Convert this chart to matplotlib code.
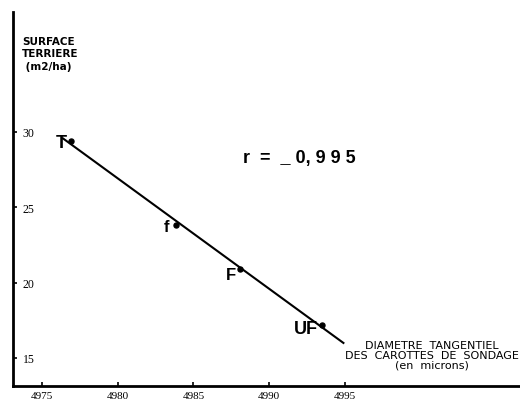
import numpy as np
import matplotlib
matplotlib.use("Agg")
import matplotlib.pyplot as plt

# points (diametre tangentiel, surface terriere)
labels = ["T", "f", "F", "UF"]
diametre = [4976.9, 4983.85, 4988.1, 4993.5]
surface = [29.4, 23.8, 20.9, 17.2]
label_sizes = [13, 12, 12, 13]
label_dx = [-3, -4.5, -3, -3]
label_dy = [-1, -1, -4, -3]

xticks = [4975, 4980, 4985, 4990, 4995]
yticks = [15, 20, 25, 30]
line_range = [4976.4, 4994.9]

fig = plt.figure(figsize=(5.2, 4.06), dpi=100)
ax = fig.add_axes([0.025, 0.047, 0.975, 0.921])
ax.set_xlim(4973.1, 5006.55)
ax.set_ylim(13.14, 37.96)

# droite de regression
a, b = np.polyfit(diametre, surface, 1)
xl = np.array(line_range)
ax.plot(xl, a * xl + b, color="black", lw=1.5)

ax.plot(diametre, surface, "o", color="black", ms=3.6)
for lab, x, y, s, dx, dy in zip(labels, diametre, surface, label_sizes, label_dx, label_dy):
    ax.annotate(lab, (x, y), xytext=(dx, dy), textcoords="offset points",
                ha="right", va="center", fontsize=s, fontweight="bold",
                family="Liberation Sans")

ax.text(4988.3, 28.3, "r  =  _ 0, 9 9 5", fontsize=13, fontweight="bold",
        family="Liberation Sans", va="center", ha="left")

for side in ["top", "right"]:
    ax.spines[side].set_visible(False)
ax.spines["left"].set_linewidth(2)
ax.spines["bottom"].set_linewidth(2)

ax.set_xticks(xticks)
ax.set_yticks(yticks)
ax.tick_params(direction="in", length=3, width=1.2, labelsize=8.5)
ax.tick_params(axis="y", pad=-7)
ax.tick_params(axis="x", pad=3.5, labelsize=8)
for t in ax.get_xticklabels() + ax.get_yticklabels():
    t.set_family("Liberation Serif")
for t in ax.get_yticklabels():
    t.set_horizontalalignment("left")

ax.text(0.018, 0.936, "SURFACE\nTERRIERE\n (m2/ha)", transform=ax.transAxes,
        fontsize=7.5, fontweight="bold",
        family=["Liberation Sans Narrow", "DejaVu Sans"],
        va="top", ha="left", linespacing=1.3)

ax.text(0.826, 0.122, "DIAMETRE  TANGENTIEL\nDES  CAROTTES  DE  SONDAGE\n(en  microns)",
        transform=ax.transAxes, fontsize=8,
        family=["Liberation Sans Narrow", "DejaVu Sans"],
        va="top", ha="center", multialignment="center", linespacing=0.95)

fig.savefig("out.png", dpi=100)
